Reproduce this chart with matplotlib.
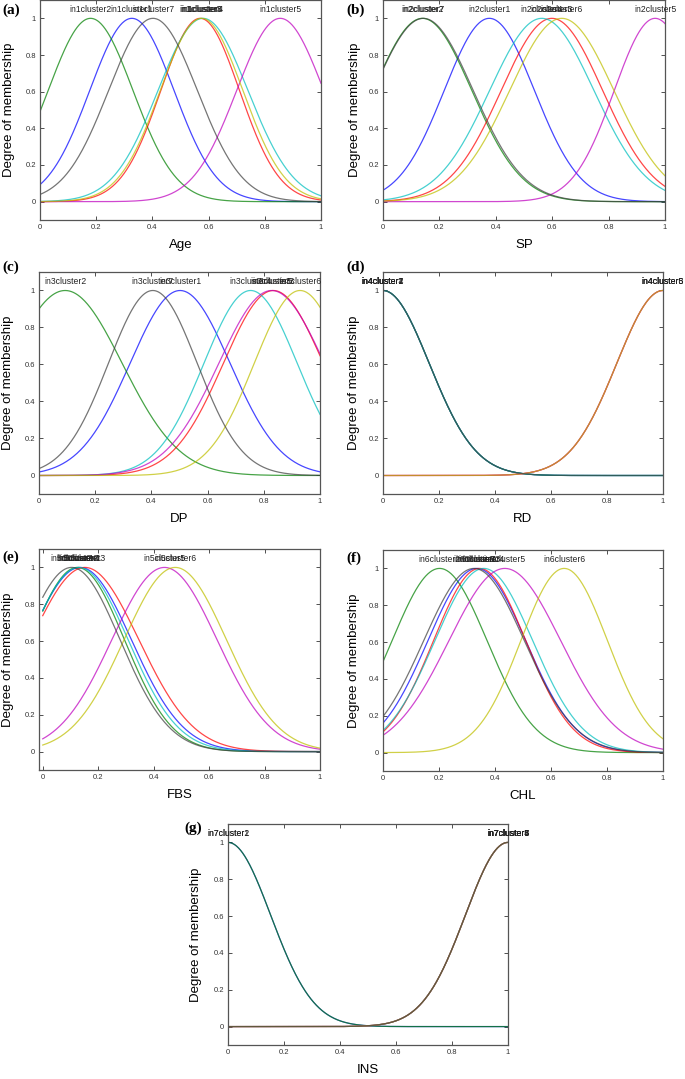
import numpy as np
import matplotlib
matplotlib.use("Agg")
import matplotlib.pyplot as plt

# Gaussian membership function parameters
# (one entry per cluster: cluster1 .. cluster7)
age_centers = [0.327, 0.180, 0.570, 0.580, 0.855, 0.575, 0.402]
age_sigmas = [0.150, 0.151, 0.140, 0.160, 0.155, 0.147, 0.158]

sp_centers = [0.377, 0.140, 0.599, 0.563, 0.965, 0.634, 0.143]
sp_sigmas = [0.160, 0.175, 0.180, 0.185, 0.145, 0.185, 0.177]

dp_centers = [0.502, 0.093, 0.834, 0.753, 0.828, 0.929, 0.405]
dp_sigmas = [0.178, 0.203, 0.178, 0.166, 0.188, 0.163, 0.158]

rd_centers = [0.0, 0.0, 1.0, 0.0, 1.0, 1.0, 0.0]
rd_sigmas = [0.165, 0.165, 0.165, 0.165, 0.165, 0.165, 0.165]

fbs_centers = [0.135, 0.125, 0.152, 0.130, 0.439, 0.478, 0.104]
fbs_sigmas = [0.185, 0.170, 0.195, 0.178, 0.190, 0.185, 0.175]

chl_centers = [0.335, 0.202, 0.345, 0.360, 0.435, 0.647, 0.325]
chl_sigmas = [0.175, 0.170, 0.165, 0.175, 0.200, 0.155, 0.180]

ins_centers = [0.0, 0.0, 1.0, 1.0, 1.0, 1.0, 1.0]
ins_sigmas = [0.152, 0.152, 0.152, 0.152, 0.152, 0.152, 0.152]

input_names = ["Age", "SP", "DP", "RD", "FBS", "CHL", "INS"]
panel_tags = ["(a)", "(b)", "(c)", "(d)", "(e)", "(f)", "(g)"]
tick_vals = [0, 0.2, 0.4, 0.6, 0.8, 1]
tick_labels = ["0", "0.2", "0.4", "0.6", "0.8", "1"]

# MATLAB default line colour order
colors = [(0, 0, 1), (0, 0.5, 0), (1, 0, 0), (0, 0.75, 0.75),
          (0.75, 0, 0.75), (0.75, 0.75, 0), (0.25, 0.25, 0.25)]

params = [(age_centers, age_sigmas), (sp_centers, sp_sigmas),
          (dp_centers, dp_sigmas), (rd_centers, rd_sigmas),
          (fbs_centers, fbs_sigmas), (chl_centers, chl_sigmas),
          (ins_centers, ins_sigmas)]

W, H = 685, 1079
fig = plt.figure(figsize=(W / 100, H / 100), dpi=100)
plt.rcParams['font.family'] = ['Liberation Sans', 'DejaVu Sans']

# axes boxes in pixels: left, right, top, bottom
boxes = [(40, 321, 0, 220), (383, 665, 0, 220),
         (39, 320, 272, 494), (383, 663, 272, 494),
         (39, 320, 549, 770), (383, 663, 550, 771),
         (228, 508, 824, 1045)]
tag_pos = [(2, 10), (346, 10), (2, 267), (346, 267),
           (2, 557), (346, 558), (184, 828)]
ylab_x = [9, 355, 8, 354, 8, 354, 196]

x = np.linspace(0, 1, 400)
for i in range(7):
    l, r, t, b = boxes[i]
    ax = fig.add_axes([l / W, 1 - b / H, (r - l) / W, (b - t) / H])
    centers, sigmas = params[i]
    for k, (c, s) in enumerate(zip(centers, sigmas)):
        y = np.exp(-(x - c) ** 2 / (2 * s ** 2))
        ax.plot(x, y, color=colors[k], lw=0.9, alpha=0.72)
    for k, c in enumerate(centers):
        ax.text(c, 1.05, "in%dcluster%d" % (i + 1, k + 1), ha='center',
                va='center', fontsize=6.2, color='#222222', clip_on=False)

    ax.set_ylim(-0.1, 1.1)
    ax.set_xlim(-0.0135 if i == 4 else 0, 1)
    ax.set_xticks(tick_vals)
    ax.set_xticklabels(tick_labels)
    ax.set_yticks(tick_vals)
    ax.set_yticklabels(tick_labels)
    ax.tick_params(direction='in', top=True, right=True, length=3,
                   width=0.6, labelsize=5.5, pad=3, colors='#333333')
    for sp in ax.spines.values():
        sp.set_linewidth(0.9)
        sp.set_color('#555555')

    ax.set_xlabel(input_names[i], fontsize=9.5)
    ax.xaxis.set_label_coords(0.5, -25 / (b - t))
    ax.xaxis.label.set_va('center')
    ax.set_ylabel("Degree of membership", fontsize=9.5)
    ax.yaxis.set_label_coords((ylab_x[i] - l) / (r - l), 0.5)
    ax.yaxis.label.set_va('center')

    tx, ty = tag_pos[i]
    fig.text(tx / W, 1 - ty / H, panel_tags[i], fontsize=11, fontweight='bold',
             family='Liberation Serif', ha='left', va='center')

fig.savefig("out.png", dpi=100)
